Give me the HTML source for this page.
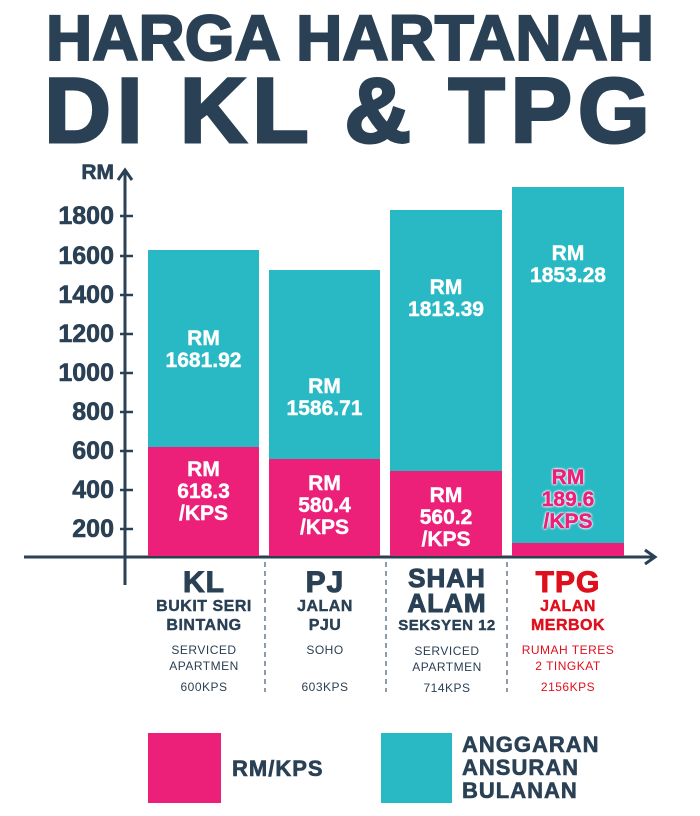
<!DOCTYPE html>
<html><head><style>
body{margin:0;width:700px;height:816px;background:#fff;position:relative;overflow:hidden;font-family:"Liberation Sans",Arial,sans-serif;font-weight:bold;color:#2a4054}
.a{position:absolute}
.t{text-align:center;white-space:nowrap}
.bar{position:absolute}
.tk{position:absolute;left:30px;width:84px;text-align:right;font-size:25px;line-height:25px;-webkit-text-stroke:0.6px #2a4054}
.lbl{color:#fff;font-size:21px;line-height:22px;text-align:center;position:absolute;width:100%;left:0;-webkit-text-stroke:0.4px #fff}
.col{position:absolute;width:120px;text-align:center}
.c1{font-size:30px;line-height:29px;letter-spacing:1px;-webkit-text-stroke:1px currentColor}
.c2{font-size:16px;line-height:19px;letter-spacing:.5px;-webkit-text-stroke:0.4px currentColor}
.c3{font-size:12px;line-height:16px;font-weight:normal;letter-spacing:.5px}
</style></head><body>
<div class="a t" style="left:0;width:700px;top:4px;font-size:64px;line-height:68px;letter-spacing:0px;-webkit-text-stroke:2px #2a4054">HARGA HARTANAH</div>
<div class="a t" style="left:0;width:700px;top:66px;font-size:92px;line-height:90px;letter-spacing:6px;-webkit-text-stroke:3px #2a4054">DI KL &amp; TPG</div>

<svg class="a" style="left:0;top:0" width="700" height="816">
<g stroke="#2a4054" stroke-width="3" fill="none">
<line x1="125" y1="170" x2="125" y2="585"/>
<polyline points="118,180 125,170 132,180"/>
<line x1="24" y1="557" x2="654" y2="557"/>
<polyline points="645,550 655,557 645,564" />
<g stroke-width="2.5">
<line x1="120" y1="216" x2="133" y2="216"/><line x1="120" y1="256" x2="133" y2="256"/>
<line x1="120" y1="295" x2="133" y2="295"/><line x1="120" y1="334" x2="133" y2="334"/>
<line x1="120" y1="373" x2="133" y2="373"/><line x1="120" y1="412" x2="133" y2="412"/>
<line x1="120" y1="451" x2="133" y2="451"/><line x1="120" y1="490" x2="133" y2="490"/>
<line x1="120" y1="529" x2="133" y2="529"/>
</g>
<g stroke-width="1.5" stroke-dasharray="5,4" stroke="#6a7a88">
<line x1="265" y1="562" x2="265" y2="692"/><line x1="386" y1="562" x2="386" y2="692"/><line x1="507" y1="562" x2="507" y2="692"/>
</g>
</g>
</svg>
<div class="tk" style="top:160px;font-size:21px">RM</div>
<div class="tk" style="top:204px">1800</div><div class="tk" style="top:244px">1600</div>
<div class="tk" style="top:283px">1400</div><div class="tk" style="top:322px">1200</div>
<div class="tk" style="top:361px">1000</div><div class="tk" style="top:400px">800</div>
<div class="tk" style="top:439px">600</div><div class="tk" style="top:478px">400</div>
<div class="tk" style="top:517px">200</div>

<div class="bar" style="left:148px;width:111px;top:250px;height:197px;background:#29b9c4"><div class="lbl" style="top:78px">RM<br>1681.92</div></div>
<div class="bar" style="left:148px;width:111px;top:447px;height:109px;background:#ec1f79"><div class="lbl" style="top:12px">RM<br>618.3<br>/KPS</div></div>

<div class="bar" style="left:269px;width:111px;top:270px;height:189px;background:#29b9c4"><div class="lbl" style="top:106px">RM<br>1586.71</div></div>
<div class="bar" style="left:269px;width:111px;top:459px;height:97px;background:#ec1f79"><div class="lbl" style="top:14px">RM<br>580.4<br>/KPS</div></div>

<div class="bar" style="left:390px;width:112px;top:210px;height:261px;background:#29b9c4"><div class="lbl" style="top:67px">RM<br>1813.39</div></div>
<div class="bar" style="left:390px;width:112px;top:471px;height:85px;background:#ec1f79"><div class="lbl" style="top:14px">RM<br>560.2<br>/KPS</div></div>

<div class="bar" style="left:512px;width:112px;top:187px;height:356px;background:#29b9c4"><div class="lbl" style="top:56px">RM<br>1853.28</div>
<div class="lbl" style="top:280px;color:#ec1f79;-webkit-text-stroke:0.4px #ec1f79;text-shadow:0 0 2px #fff,0 0 2px #fff,0 0 2px #fff,0 0 3px #fff">RM<br>189.6<br>/KPS</div></div>
<div class="bar" style="left:512px;width:112px;top:543px;height:13px;background:#ec1f79"></div>

<div class="col" style="left:144px;top:568px"><div class="c1">KL</div><div class="c2">BUKIT SERI<br>BINTANG</div><div class="c3" style="margin-top:7px">SERVICED<br>APARTMEN</div><div class="c3" style="margin-top:5px">600KPS</div></div>
<div class="col" style="left:265px;top:568px"><div class="c1">PJ</div><div class="c2">JALAN<br>PJU</div><div class="c3" style="margin-top:7px">SOHO<br>&nbsp;</div><div class="c3" style="margin-top:5px">603KPS</div></div>
<div class="col" style="left:387px;top:566px"><div class="c1" style="font-size:26px;line-height:25px">SHAH<br>ALAM</div><div class="c2" style="font-size:15px">SEKSYEN 12</div><div class="c3" style="margin-top:8px">SERVICED<br>APARTMEN</div><div class="c3" style="margin-top:5px">714KPS</div></div>
<div class="col" style="left:508px;top:568px;color:#e00f1c"><div class="c1">TPG</div><div class="c2">JALAN<br>MERBOK</div><div class="c3" style="margin-top:7px">RUMAH TERES<br>2 TINGKAT</div><div class="c3" style="margin-top:5px">2156KPS</div></div>

<div class="a" style="left:148px;top:733px;width:73px;height:70px;background:#ec1f79"></div>
<div class="a" style="left:232px;top:756px;font-size:22px;letter-spacing:1px;-webkit-text-stroke:0.6px #2a4054">RM/KPS</div>
<div class="a" style="left:381px;top:733px;width:71px;height:70px;background:#29b9c4"></div>
<div class="a" style="left:462px;top:733px;font-size:22px;line-height:23px;letter-spacing:1px;-webkit-text-stroke:0.6px #2a4054">ANGGARAN<br>ANSURAN<br>BULANAN</div>
</body></html>
